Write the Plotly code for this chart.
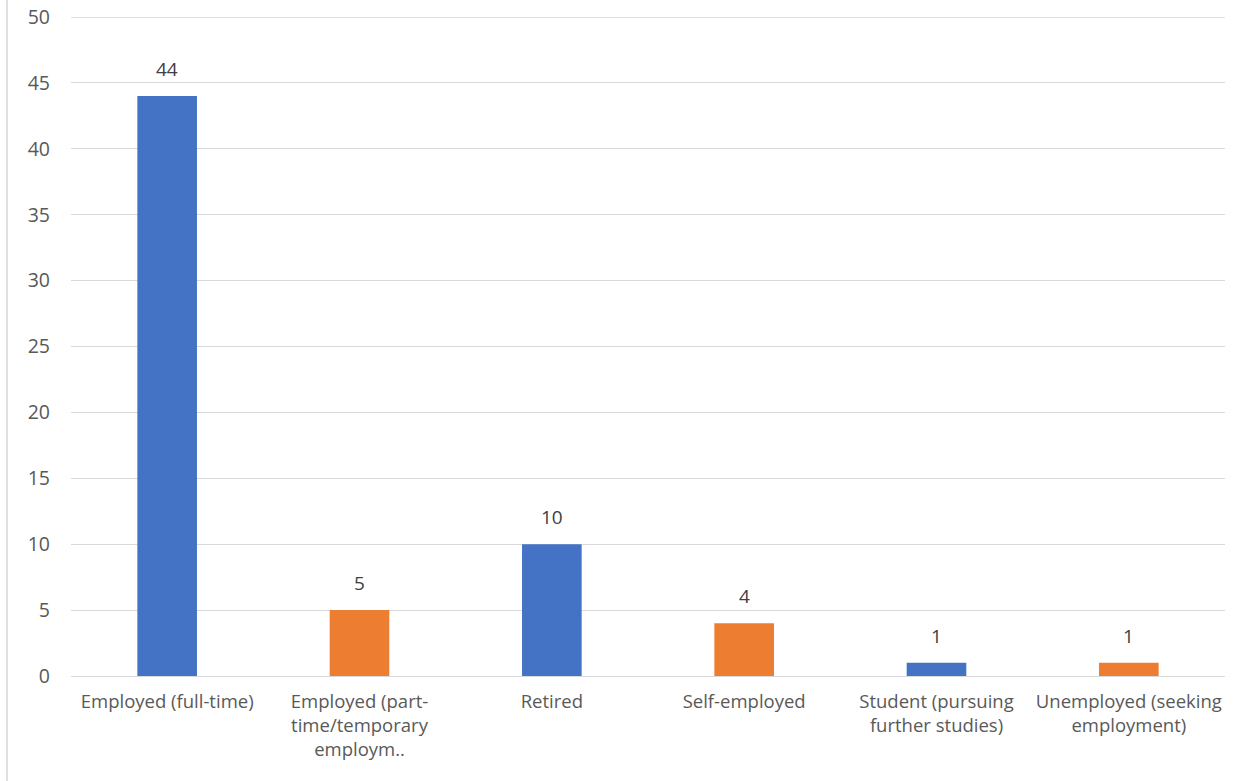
import plotly.graph_objects as go

categories = [
    "Employed (full-time)",
    "Employed (part-<br>time/temporary<br>employm..",
    "Retired",
    "Self-employed",
    "Student (pursuing<br>further studies)",
    "Unemployed (seeking<br>employment)",
]
values = [44, 5, 10, 4, 1, 1]
bar_colors = ["#4472C4", "#ED7D31", "#4472C4", "#ED7D31", "#4472C4", "#ED7D31"]
y_ticks = [0, 5, 10, 15, 20, 25, 30, 35, 40, 45, 50]

FONT = "Open Sans"
GRID = "#D9D9D9"

fig = go.Figure()
fig.add_trace(go.Bar(
    x=categories,
    y=values,
    marker=dict(color=bar_colors, line=dict(width=0)),
    hoverinfo="skip",
))

for c, v in zip(categories, values):
    fig.add_annotation(
        x=c, y=v, text=str(v), showarrow=False,
        yanchor="bottom", yshift=12,
        font=dict(family=FONT, size=19, color="#404040"),
    )

# top gridline (at range edge, plotly omits it)
fig.add_shape(
    type="line", xref="paper", yref="y",
    x0=0, x1=1, y0=y_ticks[-1], y1=y_ticks[-1],
    line=dict(color=GRID, width=1.3), layer="below",
)

# left frame line
fig.add_shape(
    type="line", xref="paper", yref="paper",
    x0=-0.0555, x1=-0.0555, y0=-0.165, y1=1.03,
    line=dict(color=GRID, width=1.6),
)

fig.update_layout(
    width=1253, height=781,
    margin=dict(l=71, r=28, t=17, b=105),
    paper_bgcolor="white",
    plot_bgcolor="white",
    bargap=0.69,
    showlegend=False,
    font=dict(family=FONT, size=19, color="#595959"),
    xaxis=dict(
        showgrid=False, showline=False, zeroline=False, automargin=False,
        ticks="", ticklabelstandoff=12,
        tickfont=dict(family=FONT, size=18.5, color="#595959"),
    ),
    yaxis=dict(
        range=[0, 50], tickvals=y_ticks, automargin=False,
        showgrid=True, gridcolor=GRID, gridwidth=1.3,
        zeroline=True, zerolinecolor=GRID, zerolinewidth=1.3,
        showline=False, ticks="", ticklabelstandoff=20,
        tickfont=dict(family=FONT, size=19.5, color="#595959"),
    ),
)

fig.write_html(
    "out.html",
    config={"displayModeBar": False},
    post_script="document.body.style.margin='0';document.body.style.padding='0';",
)
